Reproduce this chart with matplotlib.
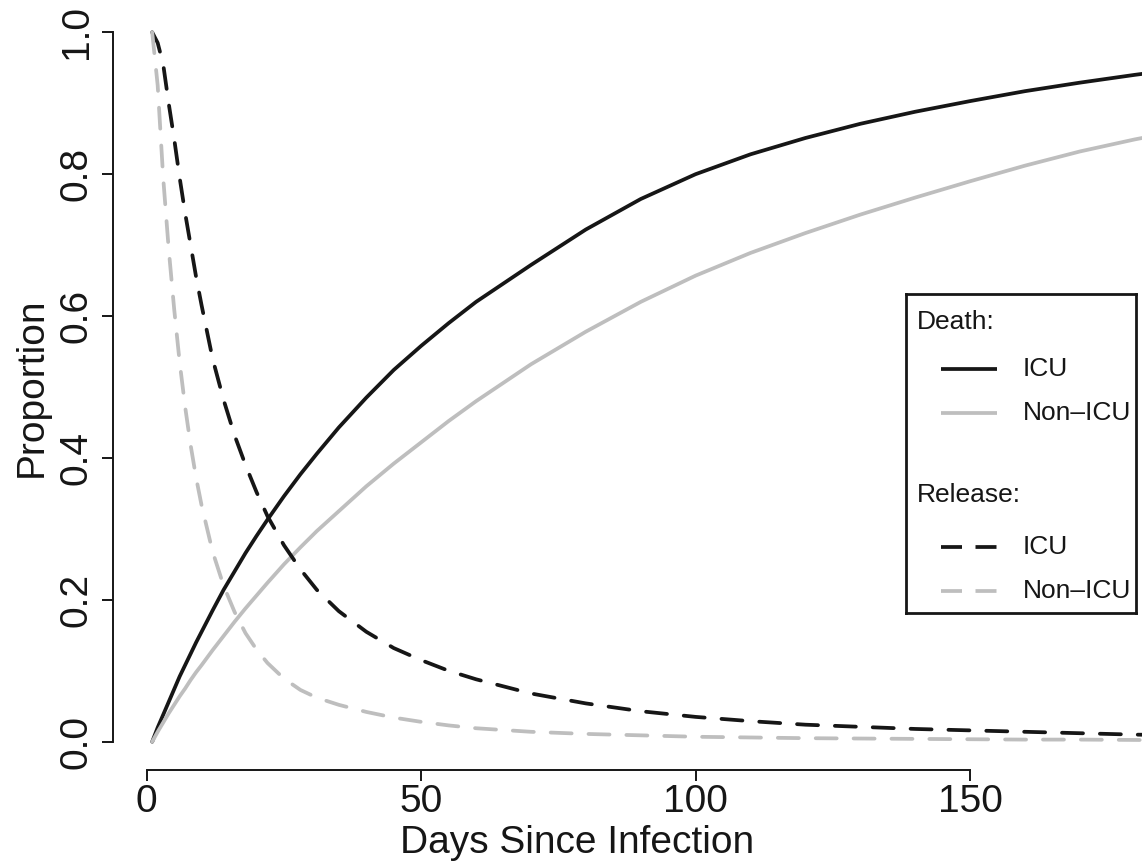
import numpy as np
import matplotlib
matplotlib.use("Agg")
import matplotlib.pyplot as plt

plt.rcParams['font.family'] = ['Liberation Sans', 'DejaVu Sans']

# values
days = [1, 2, 3, 4, 5, 6, 7, 8, 9, 10, 12, 14, 16, 18, 20, 22, 25, 28, 31, 35,
        40, 45, 50, 55, 60, 70, 80, 90, 100, 110, 120, 130, 140, 150, 160,
        170, 180, 190]
death_icu = [0.0, 0.02, 0.038, 0.056, 0.074, 0.092, 0.108, 0.124, 0.14, 0.155,
             0.185, 0.214, 0.24, 0.266, 0.29, 0.313, 0.346, 0.377, 0.406, 0.443,
             0.485, 0.524, 0.558, 0.59, 0.62, 0.672, 0.722, 0.765, 0.80, 0.828,
             0.851, 0.871, 0.888, 0.903, 0.917, 0.929, 0.94, 0.95]
death_non_icu = [0.0, 0.014, 0.027, 0.04, 0.052, 0.064, 0.075, 0.087, 0.098, 0.108,
                 0.129, 0.149, 0.169, 0.188, 0.206, 0.224, 0.25, 0.274, 0.297, 0.325,
                 0.36, 0.392, 0.422, 0.452, 0.48, 0.532, 0.578, 0.62, 0.657, 0.689,
                 0.717, 0.743, 0.767, 0.79, 0.812, 0.832, 0.849, 0.864]
release_icu = [1.0, 0.985, 0.955, 0.90, 0.85, 0.795, 0.745, 0.70, 0.655, 0.615,
               0.54, 0.482, 0.432, 0.39, 0.352, 0.318, 0.277, 0.243, 0.214, 0.184,
               0.155, 0.132, 0.115, 0.10, 0.088, 0.068, 0.054, 0.043, 0.035, 0.029,
               0.024, 0.021, 0.018, 0.016, 0.014, 0.012, 0.010, 0.009]
release_non_icu = [1.0, 0.925, 0.795, 0.695, 0.61, 0.535, 0.472, 0.418, 0.372, 0.333,
                   0.268, 0.22, 0.183, 0.153, 0.13, 0.111, 0.089, 0.073, 0.062, 0.052,
                   0.042, 0.034, 0.028, 0.023, 0.019, 0.014, 0.011, 0.009, 0.007, 0.006,
                   0.005, 0.0045, 0.004, 0.0035, 0.003, 0.003, 0.0025, 0.002]

x_ticks = [0, 50, 100, 150]
y_ticks = [0.0, 0.2, 0.4, 0.6, 0.8, 1.0]
y_tick_labels = ["0.0", "0.2", "0.4", "0.6", "0.8", "1.0"]

BLACK = '#161616'
GREY = '#bebebe'
DASH = (5.6, 4.5)

series = [
    ("ICU", death_icu, BLACK, '-'),
    ("Non\u2013ICU", death_non_icu, GREY, '-'),
    ("ICU", release_icu, BLACK, '--'),
    ("Non\u2013ICU", release_non_icu, GREY, '--'),
]

W, H = 1142, 864
fig = plt.figure(figsize=(W / 100, H / 100), dpi=100)
# plot region in pixels (right side runs past the picture edge, as in the reference)
left_px, right_px, top_px, bottom_px = 112.9, 1174.1, 3.9, 770.1
ax = fig.add_axes([left_px / W, (H - bottom_px) / H,
                   (right_px - left_px) / W, (bottom_px - top_px) / H])

lw = 2.7
for label, vals, color, ls in series:
    line, = ax.plot(days, vals, color=color, lw=lw, linestyle=ls,
                    solid_capstyle='round', dash_capstyle='round',
                    solid_joinstyle='round')
    if ls == '--':
        line.set_dashes(DASH)

ax.set_xlim(-6.16, 187.16)
ax.set_ylim(-0.04, 1.04)

for side in ['top', 'right']:
    ax.spines[side].set_visible(False)
ax.spines['left'].set_bounds(0, 1)
ax.spines['bottom'].set_bounds(0, 150)
for side in ['left', 'bottom']:
    ax.spines[side].set_linewidth(1.4)
    ax.spines[side].set_color(BLACK)

fs_big = 28
ax.set_xticks(x_ticks)
ax.set_yticks(y_ticks)
ax.set_yticklabels(y_tick_labels)
ax.tick_params(length=8, width=1.4, color=BLACK, labelsize=fs_big, labelcolor=BLACK)
ax.tick_params(axis='x', pad=2)
ax.tick_params(axis='y', pad=5)
for t in ax.get_yticklabels():
    t.set_rotation(90)
    t.set_va('center')

ax.set_xlabel("Days Since Infection", fontsize=fs_big, color=BLACK)
ax.set_ylabel("Proportion", fontsize=fs_big, color=BLACK)
ax.xaxis.set_label_coords((577 - left_px) / (right_px - left_px), -(843 - bottom_px) / (bottom_px - top_px), transform=ax.transAxes)
ax.yaxis.set_label_coords(-(left_px - 32) / (right_px - left_px), (bottom_px - 387) / (bottom_px - top_px), transform=ax.transAxes)
ax.xaxis.label.set_va('center')
ax.yaxis.label.set_va('center')

# legend box, drawn in pixel coordinates
bx0, bx1, by0, by1 = 906, 1136, 294, 613
lax = fig.add_axes([bx0 / W, (H - by1) / H, (bx1 - bx0) / W, (by1 - by0) / H])
lax.set_xlim(bx0, bx1)
lax.set_ylim(by1, by0)
lax.set_xticks([])
lax.set_yticks([])
for s in lax.spines.values():
    s.set_linewidth(2.0)
    s.set_color(BLACK)
lax.patch.set_facecolor('white')

fs = 19
lax.text(917, 322, "Death:", fontsize=fs, va='center', ha='left', color=BLACK)
lax.text(917, 495, "Release:", fontsize=fs, va='center', ha='left', color=BLACK)
row_y = [369, 413, 547, 591]
for (label, vals, color, ls), yy in zip(series, row_y):
    ln, = lax.plot([941, 997], [yy, yy], color=color, lw=lw, linestyle=ls,
                   solid_capstyle='butt', dash_capstyle='butt')
    if ls == '--':
        ln.set_dashes((5.6, 3.6))
    lax.text(1023, yy, label, fontsize=fs, va='center', ha='left', color=BLACK)

fig.savefig("out.png", dpi=100)
